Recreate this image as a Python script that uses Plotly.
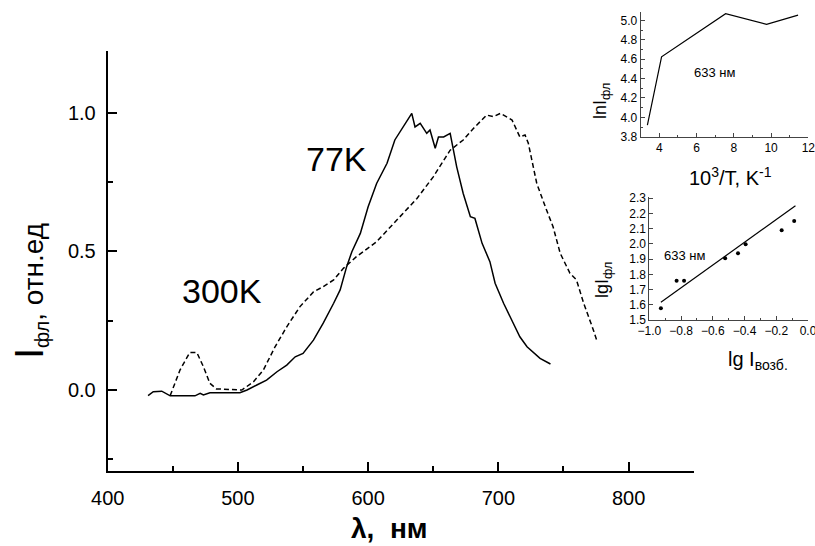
import plotly.graph_objects as go

W, H = 815, 546

# ---- data ----
solid_x = [431, 435, 441.5, 448, 467, 471, 473.5, 478.5, 501.5, 507, 514.5, 522, 530, 537.5, 544, 550,
           558, 565.5, 573.5, 578.5, 583.5, 587.5, 594, 600, 606.5, 614.5, 620.5, 628.5, 633.5, 636,
           640, 645, 647.5, 651.5, 654, 658, 663, 665.5, 668, 673, 678.5, 682, 687.5, 693.5, 697.5,
           704, 710.5, 716.5, 722, 732, 740]
solid_y = [-0.02, -0.006, -0.004, -0.021, -0.021, -0.012, -0.018, -0.01, -0.01, 0.0, 0.018, 0.036,
           0.066, 0.09, 0.12, 0.132, 0.18, 0.241, 0.313, 0.361, 0.445, 0.499, 0.565, 0.661, 0.745,
           0.818, 0.902, 0.962, 0.998, 0.949, 0.962, 0.926, 0.938, 0.872, 0.913, 0.913, 0.926, 0.865,
           0.805, 0.709, 0.625, 0.619, 0.529, 0.463, 0.385, 0.313, 0.252, 0.192, 0.156, 0.114, 0.094]

dashed_x = [448, 455.5, 463, 468.5, 473.5, 478.5, 483.5, 503, 512, 519.5, 528.5, 537.5, 547.5, 558,
            565.5, 573.5, 581, 591, 606.5, 622, 637.5, 650, 663, 673, 681, 691, 696, 701.5, 706.5,
            710.5, 716.5, 720.5, 723, 729.5, 737, 742, 747.5, 755, 760, 765.5, 773, 775.5]
dashed_y = [-0.02, 0.072, 0.135, 0.135, 0.084, 0.024, 0.004, 0.0, 0.03, 0.072, 0.156, 0.228, 0.3,
            0.354, 0.373, 0.397, 0.439, 0.481, 0.535, 0.613, 0.691, 0.769, 0.865, 0.902, 0.944,
            0.992, 0.986, 0.998, 0.986, 0.974, 0.913, 0.92, 0.89, 0.745, 0.649, 0.589, 0.493,
            0.421, 0.397, 0.313, 0.216, 0.18]

ln_x = [3.36, 4.12, 7.56, 9.76, 11.45]
ln_y = [3.92, 4.625, 5.07, 4.96, 5.055]

lg_x = [-0.927, -0.828, -0.781, -0.522, -0.441, -0.393, -0.166, -0.087]
lg_y = [1.578, 1.758, 1.758, 1.906, 1.938, 1.997, 2.09, 2.15]
fit_x = [-0.927, -0.079]
fit_y = [1.617, 2.25]

x_ticks_main = [400, 500, 600, 700, 800]
y_ticks_main = [0.0, 0.5, 1.0]

FONT = "Liberation Sans, Arial, sans-serif"


def fx(p):
    return p / W


def fy(p):
    return 1 - p / H


fig = go.Figure()
fig.add_trace(go.Scatter(x=solid_x, y=solid_y, mode="lines",
                         line=dict(color="black", width=1.5), xaxis="x", yaxis="y"))
fig.add_trace(go.Scatter(x=dashed_x, y=dashed_y, mode="lines",
                         line=dict(color="black", width=1.5, dash="5px,3px"), xaxis="x", yaxis="y"))
fig.add_trace(go.Scatter(x=ln_x, y=ln_y, mode="lines",
                         line=dict(color="black", width=1.2), xaxis="x2", yaxis="y2"))
fig.add_trace(go.Scatter(x=lg_x, y=lg_y, mode="markers",
                         marker=dict(color="black", size=4), xaxis="x3", yaxis="y3"))
fig.add_trace(go.Scatter(x=fit_x, y=fit_y, mode="lines",
                         line=dict(color="black", width=1.2), xaxis="x3", yaxis="y3"))

main_ax = dict(showgrid=False, zeroline=False, showline=True, linecolor="black", linewidth=2,
               ticks="inside", ticklen=9, tickwidth=1.5, tickcolor="black", automargin=False,
               tickfont=dict(family=FONT, size=20, color="black"), mirror=False)
ins_ax = dict(showgrid=False, zeroline=False, showline=True, linecolor="#444", linewidth=1,
              ticks="inside", ticklen=4, tickwidth=1, tickcolor="#444", automargin=False,
              ticklabeloverflow="allow",
              tickfont=dict(family=FONT, size=12, color="black"), mirror=False)

fig.update_layout(
    width=W, height=H, margin=dict(l=0, r=0, t=0, b=0, pad=0, autoexpand=False),
    paper_bgcolor="white", plot_bgcolor="rgba(0,0,0,0)", showlegend=False,
    xaxis=dict(main_ax, domain=[fx(107.7), fx(693.7)], range=[400, 850],
               tickvals=x_ticks_main, anchor="y", ticklabelstandoff=8,
               minor=dict(dtick=50, tick0=400, ticks="inside", ticklen=5, tickcolor="black")),
    yaxis=dict(main_ax, domain=[fy(470.7), fy(50.7)], range=[-0.291, 1.224],
               tickvals=y_ticks_main, tickformat=".1f", anchor="x", ticklabelstandoff=6,
               minor=dict(dtick=0.25, tick0=0, ticks="inside", ticklen=5, tickcolor="black")),
    xaxis2=dict(ins_ax, domain=[fx(640.7), fx(808.3)], range=[3, 12], dtick=2, tick0=0,
                anchor="y2", minor=dict(dtick=1, ticks="inside", ticklen=2, tickcolor="#444")),
    yaxis2=dict(ins_ax, domain=[fy(136.7), fy(11.7)], range=[3.8, 5.09], dtick=0.2, tick0=3.8,
                tickformat=".1f", anchor="x2",
                minor=dict(dtick=0.1, ticks="inside", ticklen=2, tickcolor="#444")),
    xaxis3=dict(ins_ax, domain=[fx(649.3), fx(808)], range=[-1.0, 0.0], dtick=0.2, tick0=0,
                tickformat=".1f", anchor="y3",
                minor=dict(dtick=0.1, ticks="inside", ticklen=2, tickcolor="#444")),
    yaxis3=dict(ins_ax, domain=[fy(320), fy(196.7)], range=[1.5, 2.31], dtick=0.1, tick0=1.5,
                tickformat=".1f", anchor="x3"),
)

ann = [
    dict(x=fx(30), y=fy(291), textangle=-90,
         text="<span style='font-size:40px'>I</span><sub>фл</sub>, отн.ед", font=dict(size=28)),
    dict(x=fx(389), y=fy(528), text="<b>λ,  нм</b>", font=dict(size=28)),
    dict(x=fx(336.7), y=fy(159), text="77K", font=dict(size=34)),
    dict(x=fx(221.7), y=fy(291), text="300K", font=dict(size=34)),
    dict(x=fx(714.5), y=fy(72.7), text="633 нм", font=dict(size=13)),
    dict(x=fx(684), y=fy(255), text="633 нм", font=dict(size=13)),
    dict(x=fx(730), y=fy(177), text="10<sup>3</sup>/T, K<sup>-1</sup>", font=dict(size=20)),
    dict(x=fx(601), y=fy(101), textangle=-90, text="lnI<sub>фл</sub>", font=dict(size=18)),
    dict(x=fx(603), y=fy(280), textangle=-90, text="lgI<sub>фл</sub>", font=dict(size=18)),
    dict(x=fx(758), y=fy(360), text="lg I<sub>возб.</sub>", font=dict(size=20)),
]
for a in ann:
    a.update(xref="paper", yref="paper", showarrow=False, xanchor="center", yanchor="middle")
    a["font"].update(family=FONT, color="black")
fig.update_layout(annotations=ann)

fig.write_html("out.html", config={"displayModeBar": False},
               post_script="document.body.style.margin='0';document.body.style.padding='0';")
